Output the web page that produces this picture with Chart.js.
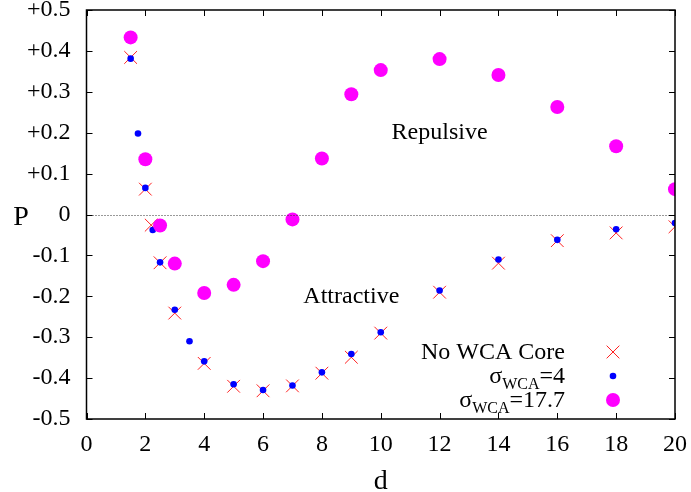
<!DOCTYPE html>
<html>
<head>
<meta charset="utf-8">
<script src="https://cdn.jsdelivr.net/npm/chart.js@4/dist/chart.umd.min.js"></script>
<style>
  body { margin: 0; background: #fff; }
  canvas { display: block; }
</style>
</head>
<body>
<canvas id="chart" width="691" height="492"></canvas>
<script>
// d values and pressure P for each run
var dNoCore = [1.5, 2, 2.2, 2.5, 3, 4, 5, 6, 7, 8, 9, 10, 12, 14, 16, 18, 20];
var pNoCore = [0.384, 0.062, -0.026, -0.118, -0.241, -0.364, -0.42, -0.431, -0.419, -0.388, -0.349, -0.29, -0.19, -0.119, -0.064, -0.045, -0.030];

var dSigma4 = [1.5, 1.75, 2, 2.25, 2.5, 3, 3.5, 4, 5, 6, 7, 8, 9, 10, 12, 14, 16, 18, 20];
var pSigma4 = [0.381, 0.198, 0.065, -0.038, -0.117, -0.233, -0.31, -0.359, -0.415, -0.429, -0.418, -0.386, -0.341, -0.288, -0.186, -0.11, -0.062, -0.036, -0.021];

var dSigma177 = [1.5, 2, 2.5, 3, 4, 5, 6, 7, 8, 9, 10, 12, 14, 16, 18, 20];
var pSigma177 = [0.433, 0.135, -0.027, -0.12, -0.192, -0.172, -0.114, -0.012, 0.137, 0.294, 0.353, 0.38, 0.341, 0.263, 0.167, 0.062];

var yTickLabels = ['-0.5', '-0.4', '-0.3', '-0.2', '-0.1', '0', '+0.1', '+0.2', '+0.3', '+0.4', '+0.5'];
var xTickLabels = ['0', '2', '4', '6', '8', '10', '12', '14', '16', '18', '20'];

var legendLabels = [
    { main: 'No WCA Core' },
    { main: 'σ', sub: 'WCA', tail: '=4' },
    { main: 'σ', sub: 'WCA', tail: '=17.7' }
];

var notes = [
    { text: 'Repulsive', x: 12, y: 0.2 },
    { text: 'Attractive', x: 9, y: -0.2 }
];

var serif = '"Liberation Serif", "Times New Roman", serif';

function toPoints(xs, ys) {
    return xs.map(function (x, i) { return { x: x, y: ys[i] }; });
}

// frame, inward ticks, zero line, labels and key
var decor = {
    id: 'decor',
    afterDatasetsDraw: function (chart) {
        var ctx = chart.ctx;
        var a = chart.chartArea;
        var xs = chart.scales.x, ys = chart.scales.y;
        ctx.save();

        // dotted zero line
        var y0 = ys.getPixelForValue(0);
        ctx.strokeStyle = '#333';
        ctx.lineWidth = 1;
        ctx.setLineDash([1, 2]);
        ctx.beginPath();
        ctx.moveTo(a.left, Math.round(y0) + 0.5);
        ctx.lineTo(a.right, Math.round(y0) + 0.5);
        ctx.stroke();
        ctx.setLineDash([]);

        // tick marks on all four sides
        ctx.strokeStyle = '#000';
        ctx.lineWidth = 1;
        ctx.beginPath();
        xs.ticks.forEach(function (t) {
            var px = Math.round(xs.getPixelForValue(t.value)) + 0.5;
            ctx.moveTo(px, a.bottom); ctx.lineTo(px, a.bottom - 6);
            ctx.moveTo(px, a.top); ctx.lineTo(px, a.top + 6);
        });
        ys.ticks.forEach(function (t) {
            var py = Math.round(ys.getPixelForValue(t.value)) + 0.5;
            ctx.moveTo(a.left, py); ctx.lineTo(a.left + 6, py);
            ctx.moveTo(a.right, py); ctx.lineTo(a.right - 6, py);
        });
        ctx.stroke();

        // border
        ctx.lineWidth = 1.5;
        ctx.strokeRect(a.left, a.top, a.right - a.left, a.bottom - a.top);

        // axis titles
        ctx.fillStyle = '#000';
        ctx.font = '28px ' + serif;
        ctx.textAlign = 'center';
        ctx.textBaseline = 'alphabetic';
        ctx.fillText('P', 21, y0 + 10);
        ctx.fillText('d', (a.left + a.right) / 2, 489);

        // region notes
        ctx.font = '24px ' + serif;
        ctx.textBaseline = 'middle';
        notes.forEach(function (n) {
            ctx.fillText(n.text, xs.getPixelForValue(n.x), ys.getPixelForValue(n.y));
        });

        // key, text right-aligned with markers to the right
        var textRight = 565, markX = 613, rowY = [352, 376, 400];
        ctx.textBaseline = 'alphabetic';
        ctx.textAlign = 'left';
        legendLabels.forEach(function (l, i) {
            var base = rowY[i] + 7;
            ctx.font = '24px ' + serif;
            var wMain = ctx.measureText(l.main).width;
            var wTail = l.tail ? ctx.measureText(l.tail).width : 0;
            ctx.font = '16px ' + serif;
            var wSub = l.sub ? ctx.measureText(l.sub).width : 0;
            var x = textRight - wMain - wSub - wTail;
            ctx.font = '24px ' + serif;
            ctx.fillText(l.main, x, base);
            x += wMain;
            if (l.sub) {
                ctx.font = '16px ' + serif;
                ctx.fillText(l.sub, x, base + 6);
                x += wSub;
                ctx.font = '24px ' + serif;
                ctx.fillText(l.tail, x, base);
            }

            var ds = chart.data.datasets[i];
            ctx.fillStyle = ds.backgroundColor;
            ctx.strokeStyle = ds.borderColor;
            ctx.lineWidth = ds.borderWidth;
            Chart.helpers.drawPoint(ctx, {
                pointStyle: ds.pointStyle,
                radius: ds.pointRadius,
                rotation: 0,
                borderWidth: ds.borderWidth
            }, markX, rowY[i]);
            ctx.fillStyle = '#000';
        });

        ctx.restore();
    }
};

new Chart(document.getElementById('chart'), {
    type: 'scatter',
    data: {
        datasets: [
            {
                label: 'No WCA Core',
                data: toPoints(dNoCore, pNoCore),
                pointStyle: 'crossRot',
                pointRadius: 9,
                borderColor: '#ff2020',
                backgroundColor: '#ff2020',
                borderWidth: 1,
                order: 2
            },
            {
                label: 'sigma 4',
                data: toPoints(dSigma4, pSigma4),
                pointStyle: 'circle',
                pointRadius: 3.3,
                borderColor: '#0000ff',
                backgroundColor: '#0000ff',
                borderWidth: 0,
                order: 1
            },
            {
                label: 'sigma 17.7',
                data: toPoints(dSigma177, pSigma177),
                pointStyle: 'circle',
                pointRadius: 7,
                borderColor: '#ff00ff',
                backgroundColor: '#ff00ff',
                borderWidth: 0,
                order: 0
            }
        ]
    },
    options: {
        responsive: false,
        animation: false,
        events: [],
        layout: { padding: { top: 10, right: 16, left: 0, bottom: 0 } },
        plugins: {
            legend: { display: false },
            tooltip: { enabled: false }
        },
        scales: {
            x: {
                type: 'linear',
                min: 0,
                max: 20,
                grid: { display: false, drawTicks: false },
                border: { display: false },
                afterFit: function (s) {
                    s.height = 73;
                    s.paddingLeft = 0;
                    s.paddingRight = 0;
                },
                ticks: {
                    stepSize: 2,
                    padding: 11,
                    color: '#000',
                    font: { family: serif, size: 24 },
                    maxRotation: 0,
                    callback: function (v) { return xTickLabels[Math.round(v / 2)]; }
                }
            },
            y: {
                type: 'linear',
                min: -0.5,
                max: 0.5,
                grid: { display: false, drawTicks: false },
                border: { display: false },
                afterFit: function (s) {
                    s.width = 86.5;
                    s.paddingTop = 0;
                    s.paddingBottom = 0;
                },
                ticks: {
                    stepSize: 0.1,
                    padding: 16,
                    color: '#000',
                    font: { family: serif, size: 24 },
                    callback: function (v) { return yTickLabels[Math.round(v * 10) + 5]; }
                }
            }
        }
    },
    plugins: [decor]
});
</script>
</body>
</html>
